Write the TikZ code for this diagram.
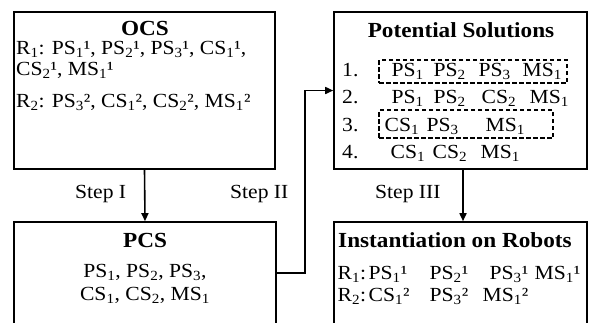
\documentclass[tikz,border=0pt]{standalone}
\usepackage{fontspec}
\setmainfont[FakeStretch=1.08]{Liberation Serif}
\usetikzlibrary{arrows.meta}
\newcommand{\sbs}[1]{\textsubscript{#1}}
\newcommand{\placeat}[2]{\makebox[0pt][l]{\hspace{#1pt}#2}}
\tikzset{
  box/.style={draw, line width=1.6pt, inner sep=0pt},
  dbox/.style={draw, line width=1.2pt, inner sep=0pt, dash pattern=on 4.5pt off 2.5pt},
  txt/.style={anchor=base west, inner sep=0pt, font=\fontsize{20}{24}\selectfont},
  ctxt/.style={anchor=base, inner sep=0pt, font=\fontsize{20}{24}\selectfont},
  ttl/.style={anchor=base, inner sep=0pt, font=\fontsize{21.5}{24}\selectfont\bfseries},
  arr/.style={line width=1.6pt, -{Triangle[length=8pt,width=7pt]}},
}
\begin{document}
\begin{tikzpicture}[x=1pt,y=-1pt]
\clip (0,0) rectangle (591,322);
\fill[white] (0,0) rectangle (591,322);
% boxes
\node[box, minimum width=261pt, minimum height=157pt] (ocs) at (144.5,90.5) {};
\node[box, minimum width=262pt, minimum height=200pt] (pcs) at (145,322) {};
\node[box, minimum width=253pt, minimum height=157pt] (pot) at (460.5,90.5) {};
\node[box, minimum width=253pt, minimum height=200pt] (inst) at (460.5,322) {};
% OCS
\node[ttl] (ocst) at (145,35) {OCS};
\node[txt] (ocs1) at (16,54) {R\sbs{1}: PS\sbs{1}¹, PS\sbs{2}¹, PS\sbs{3}¹, CS\sbs{1}¹,};
\node[txt] (ocs2) at (16,75) {CS\sbs{2}¹, MS\sbs{1}¹};
\node[txt] (ocs3) at (16,107) {R\sbs{2}: PS\sbs{3}², CS\sbs{1}², CS\sbs{2}², MS\sbs{1}²};
% PCS
\node[ttl] (pcst) at (145,247) {PCS};
\node[ctxt] (pcs1) at (145,277) {PS\sbs{1}, PS\sbs{2}, PS\sbs{3},};
\node[ctxt] (pcs2) at (145,300) {CS\sbs{1}, CS\sbs{2}, MS\sbs{1}};
% Potential solutions
\node[ttl] (pott) at (461,37) {Potential Solutions};
\node[dbox, minimum width=188pt, minimum height=23pt] (d1) at (473,71.5) {};
\node[dbox, minimum width=174pt, minimum height=28pt] (d3) at (466,124) {};
\node[txt] (n1) at (342,76) {1.};
\node[txt] (n2) at (342,103) {2.};
\node[txt] (n3) at (342,131) {3.};
\node[txt] (n4) at (342,158) {4.};
\node[txt] (r1) at (383,76) {\placeat{8}{PS\sbs{1}}\placeat{50}{PS\sbs{2}}\placeat{95}{PS\sbs{3}}\placeat{139}{MS\sbs{1}}};
\node[txt] (r2) at (383,103) {\placeat{8}{PS\sbs{1}}\placeat{50}{PS\sbs{2}}\placeat{98}{CS\sbs{2}}\placeat{146}{MS\sbs{1}}};
\node[txt] (r3) at (383,131) {\placeat{1}{CS\sbs{1}}\placeat{43}{PS\sbs{3}}\placeat{102}{MS\sbs{1}}};
\node[txt] (r4) at (383,158) {\placeat{7}{CS\sbs{1}}\placeat{49}{CS\sbs{2}}\placeat{97}{MS\sbs{1}}};
% Instantiation
\node[ttl] (instt) at (455,247) {Instantiation on Robots};
\node[txt] (i1) at (337,279) {\placeat{0}{R\sbs{1}:}\placeat{31}{PS\sbs{1}¹}\placeat{92}{PS\sbs{2}¹}\placeat{152}{PS\sbs{3}¹}\placeat{197}{MS\sbs{1}¹}};
\node[txt] (i2) at (337,301) {\placeat{0}{R\sbs{2}:}\placeat{31}{CS\sbs{1}²}\placeat{92}{PS\sbs{3}²}\placeat{145}{MS\sbs{1}²}};
% connectors
\draw[arr] (ocs.south) -- (pcs.north);
\draw[arr] (pot.south -| 463,0) -- (inst.north -| 463,0);
\coordinate (bend) at (305,273);
\draw[arr] (pcs.east |- bend) -- (bend) |- (pot.west);
% step labels
\node[txt] (s1) at (75,198) {Step I};
\node[txt] (s2) at (230,198) {Step II};
\node[txt] (s3) at (375,198) {Step III};
\end{tikzpicture}
\end{document}
